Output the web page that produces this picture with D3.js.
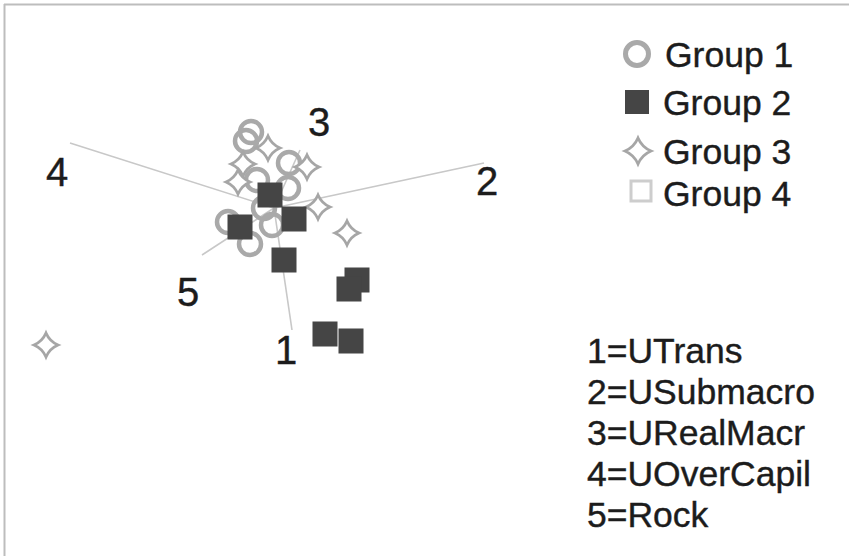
<!DOCTYPE html>
<html>
<head>
<meta charset="utf-8">
<script src="https://cdn.jsdelivr.net/npm/d3@7"></script>
<style>
  html, body { margin: 0; padding: 0; background: #fff; }
  svg { display: block; }
  text { font-family: "Liberation Sans", Arial, sans-serif; fill: #1c1c1c; stroke: #1c1c1c; stroke-width: 0.4; }
</style>
</head>
<body>
<svg id="chart" width="849" height="556"></svg>
<script>
// Ordination scores (two axes) for each group of samples
const group1 = [[-0.46, 1.52], [-0.56, 1.34], [0.30, 0.90], [-0.34, 0.56], [0.28, 0.40],
                [-0.92, -0.28], [-0.04, -0.34], [-0.48, -0.72], [-0.20, 0.00]];
const group2 = [[-0.08, 0.26], [0.40, -0.22], [-0.68, -0.38], [0.20, -1.04],
                [1.66, -1.44], [1.50, -1.62], [1.02, -2.52], [1.54, -2.66]];
const group3 = [[-4.56, -2.74], [1.46, -0.50], [0.88, 0.02], [0.66, 0.82],
                [-0.12, 1.20], [-0.62, 0.88], [-0.72, 0.52]];
const group4 = [];

// Environmental variable vectors and where their numbers sit
const varIds = ["1", "2", "3", "4", "5"];
const varNames = ["UTrans", "USubmacro", "URealMacr", "UOverCapil", "Rock"];
const varTips = [[0.36, -2.44], [4.20, 0.90], [0.52, 1.16], [-4.08, 1.30], [-1.44, -0.94]];
const varLabelPos = [[0.24, -3.12], [4.26, 0.26], [0.90, 1.44], [-4.34, 0.44], [-1.72, -1.96]];

const groupNames = ["Group 1", "Group 2", "Group 3", "Group 4"];

const W = 849, H = 556;
const svg = d3.select("#chart");

const x = d3.scaleLinear().domain([-5.48, 11.50]).range([0, W]);
const y = d3.scaleLinear().domain([4.16, -6.96]).range([0, H]);

// frame: top and left edges only
svg.append("line").attr("x1", 4).attr("x2", W).attr("y1", 4.5).attr("y2", 4.5)
  .attr("stroke", "#bdbdbd").attr("stroke-width", 2);
svg.append("line").attr("x1", 4.5).attr("x2", 4.5).attr("y1", 4).attr("y2", H)
  .attr("stroke", "#bdbdbd").attr("stroke-width", 2);

// variable vectors
svg.append("g").selectAll("line").data(varTips).join("line")
  .attr("x1", x(0)).attr("y1", y(0))
  .attr("x2", d => x(d[0])).attr("y2", d => y(d[1]))
  .attr("stroke", "#c8c8c8").attr("stroke-width", 1.6);

svg.append("g").selectAll("text").data(varLabelPos).join("text")
  .attr("x", d => x(d[0])).attr("y", d => y(d[1]))
  .attr("text-anchor", "middle")
  .attr("font-size", 40)
  .text((d, i) => varIds[i]);

// four-pointed star outline
function starPath(r) {
  const k = r * 0.3;
  return `M0,${-r} Q${k},${-k} ${r},0 Q${k},${k} 0,${r} Q${-k},${k} ${-r},0 Q${-k},${-k} 0,${-r}Z`;
}

const pts = svg.append("g");

pts.selectAll(".g1").data(group1).join("circle").attr("class", "g1")
  .attr("cx", d => x(d[0])).attr("cy", d => y(d[1])).attr("r", 11)
  .attr("fill", "none").attr("stroke", "#a9a9a9").attr("stroke-width", 4.5);

pts.selectAll(".g3").data(group3).join("path").attr("class", "g3")
  .attr("transform", d => `translate(${x(d[0])},${y(d[1])})`)
  .attr("d", starPath(12))
  .attr("fill", "#fff").attr("stroke", "#a6a6a6").attr("stroke-width", 2.8);

pts.selectAll(".g4").data(group4).join("rect").attr("class", "g4")
  .attr("x", d => x(d[0]) - 11).attr("y", d => y(d[1]) - 11)
  .attr("width", 22).attr("height", 22)
  .attr("fill", "none").attr("stroke", "#cfcfcf").attr("stroke-width", 3);

pts.selectAll(".g2").data(group2).join("rect").attr("class", "g2")
  .attr("x", d => x(d[0]) - 12.5).attr("y", d => y(d[1]) - 12.5)
  .attr("width", 25).attr("height", 25)
  .attr("fill", "#454545");

// group legend
const leg = svg.append("g");
const legY = [54, 102, 151, 191];
const legBase = [67, 115, 164, 206];
leg.append("circle").attr("cx", 637).attr("cy", legY[0]).attr("r", 11.5)
  .attr("fill", "none").attr("stroke", "#a9a9a9").attr("stroke-width", 5);
leg.append("rect").attr("x", 625).attr("y", legY[1] - 12).attr("width", 24).attr("height", 24)
  .attr("fill", "#454545");
leg.append("path").attr("transform", `translate(638,${legY[2]})`).attr("d", starPath(13))
  .attr("fill", "#fff").attr("stroke", "#a6a6a6").attr("stroke-width", 2.8);
leg.append("rect").attr("x", 631).attr("y", legY[3] - 10).attr("width", 20).attr("height", 20)
  .attr("fill", "none").attr("stroke", "#cdcdcd").attr("stroke-width", 3);
leg.selectAll("text").data(groupNames).join("text")
  .attr("x", (d, i) => i === 0 ? 665 : 663)
  .attr("y", (d, i) => legBase[i])
  .attr("font-size", 35.5)
  .text(d => d);

// variable key
svg.append("g").selectAll("text").data(varNames).join("text")
  .attr("x", 587)
  .attr("y", (d, i) => 363 + i * 41)
  .attr("font-size", 35.5)
  .text((d, i) => `${varIds[i]}=${d}`);
</script>
</body>
</html>
